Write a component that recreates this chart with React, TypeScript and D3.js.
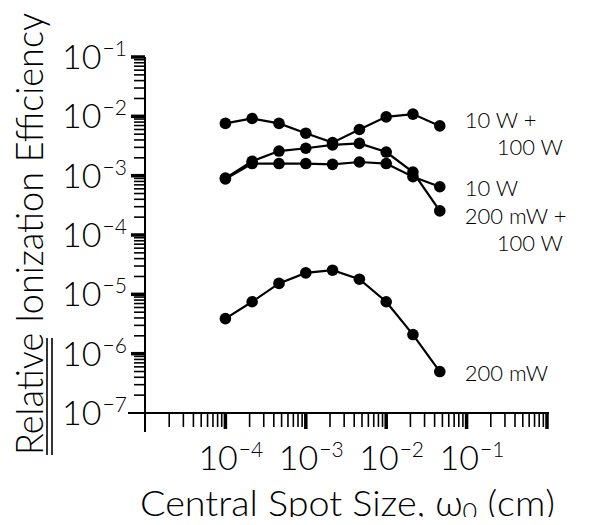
import React from 'react'
import { scaleLog, line } from 'd3'

// spot sizes (cm), one third of a decade apart
const spotSizes = [1e-4, 2.15e-4, 4.64e-4, 1e-3, 2.15e-3, 4.64e-3, 1e-2, 2.15e-2, 4.64e-2]

const eff10W100W = [7.6e-3, 9.2e-3, 7.6e-3, 5.2e-3, 3.6e-3, 6.0e-3, 9.8e-3, 1.09e-2, 6.9e-3]
const eff200mW100W = [9.1e-4, 1.75e-3, 2.6e-3, 2.9e-3, 3.3e-3, 3.5e-3, 2.5e-3, 1.15e-3, 2.55e-4]
const eff10W = [8.8e-4, 1.6e-3, 1.6e-3, 1.6e-3, 1.55e-3, 1.7e-3, 1.6e-3, 9.6e-4, 6.5e-4]
const eff200mW = [3.9e-6, 7.5e-6, 1.53e-5, 2.3e-5, 2.55e-5, 1.8e-5, 7.5e-6, 2.1e-6, 5.0e-7]

const seriesList = [
  { name: '10 W + 100 W', lines: ['10 W +', '100 W'], values: eff10W100W },
  { name: '10 W', lines: ['10 W'], values: eff10W },
  { name: '200 mW + 100 W', lines: ['200 mW +', '100 W'], values: eff200mW100W },
  { name: '200 mW', lines: ['200 mW'], values: eff200mW },
]

const yTickExps = [-1, -2, -3, -4, -5, -6, -7]
const xTickExps = [-4, -3, -2, -1]

// vertical nudge of each end label (label centre vs last point)
const labelDy = [-6, 1, 5, 1]

const FONT = 'Lato, "DejaVu Sans", sans-serif'

const App = () => {
  const width = 595, height = 525

  const x = scaleLog().domain([1e-5, 1]).range([145, 547])
  const y = scaleLog().domain([1e-7, 1e-1]).range([413, 57])

  const path = line<number>()
    .x((_, i) => x(spotSizes[i]))
    .y(d => y(d))

  const xTicks: { v: number; major: boolean }[] = []
  for (let e = -5; e <= -1; e++) {
    for (let k = 1; k <= 10; k++) {
      if (e === -5 && k === 1) continue
      if (k === 10 && e !== -1) continue
      xTicks.push({ v: k * Math.pow(10, e), major: k === 1 || k === 10 })
    }
  }
  const yTicks: { v: number; major: boolean }[] = []
  for (let e = -7; e <= -2; e++) {
    for (let k = 1; k <= 10; k++) {
      if (e === -7 && k === 1) continue
      if (k === 10 && e !== -2) continue
      yTicks.push({ v: k * Math.pow(10, e), major: k === 1 || k === 10 })
    }
  }
  const last = spotSizes.length - 1

  const pow10 = (e: number) => (
    <>
      <tspan fontSize={34}>10</tspan>
      <tspan dx={1} dy={-13} fontSize={21}>{'\u2212' + Math.abs(e)}</tspan>
    </>
  )

  return (
    <svg width={width} height={height} style={{ display: 'block', margin: -8, background: '#fff' }}
      fontFamily={FONT} fontWeight={300} fill="#000">
      {/* axes */}
      <line x1={145} x2={145} y1={y(1e-1)} y2={432} stroke="#000" strokeWidth={2} />
      <line x1={128} x2={549} y1={y(1e-7)} y2={y(1e-7)} stroke="#000" strokeWidth={2} />
      {yTicks.map((t, i) => (
        <line key={'yt' + i} x1={t.major ? 131 : 134} x2={145} y1={y(t.v)} y2={y(t.v)}
          stroke="#000" strokeWidth={t.major ? 3.5 : 1.6} />
      ))}
      {xTicks.map((t, i) => (
        <line key={'xt' + i} x1={x(t.v)} x2={x(t.v)} y1={413} y2={t.major ? 429 : 427}
          stroke="#000" strokeWidth={t.major ? 3.5 : 1.6} />
      ))}

      {/* tick labels */}
      {yTickExps.map(e => (
        <text key={'yl' + e} x={62} y={y(Math.pow(10, e)) + 12}>{pow10(e)}</text>
      ))}
      {xTickExps.map(e => (
        <text key={'xl' + e} x={x(Math.pow(10, e)) - 27} y={470}>{pow10(e)}</text>
      ))}

      {/* axis titles */}
      <text x={140} y={516} fontSize={36} textLength={415} lengthAdjust="spacingAndGlyphs">
        Central Spot Size, ω<tspan fontSize={24} dy={4}>0</tspan><tspan dy={-4}> (cm)</tspan>
      </text>
      <text transform="translate(43,455) rotate(-90)" fontSize={37} textLength={442}
        lengthAdjust="spacingAndGlyphs">Relative Ionization Efficiency</text>
      <line x1={47} x2={47} y1={338} y2={455} stroke="#000" strokeWidth={1.6} />
      <line x1={52} x2={52} y1={338} y2={455} stroke="#000" strokeWidth={1.6} />

      {/* series */}
      {seriesList.map((s, si) => (
        <g key={s.name}>
          <path d={path(s.values) || ''} fill="none" stroke="#000" strokeWidth={2.2} />
          {s.values.map((v, i) => (
            <circle key={i} cx={x(spotSizes[i])} cy={y(v)} r={5.8} fill="#000" />
          ))}
          <text y={y(s.values[last]) + labelDy[si] + 8} fontSize={22}>
            {s.lines.map((l, li) => (
              <tspan key={li} x={x(spotSizes[last]) + 25 + (li > 0 ? 32 : 0)} dy={li > 0 ? 27 : 0}>{l}</tspan>
            ))}
          </text>
        </g>
      ))}
    </svg>
  )
}

export default App
